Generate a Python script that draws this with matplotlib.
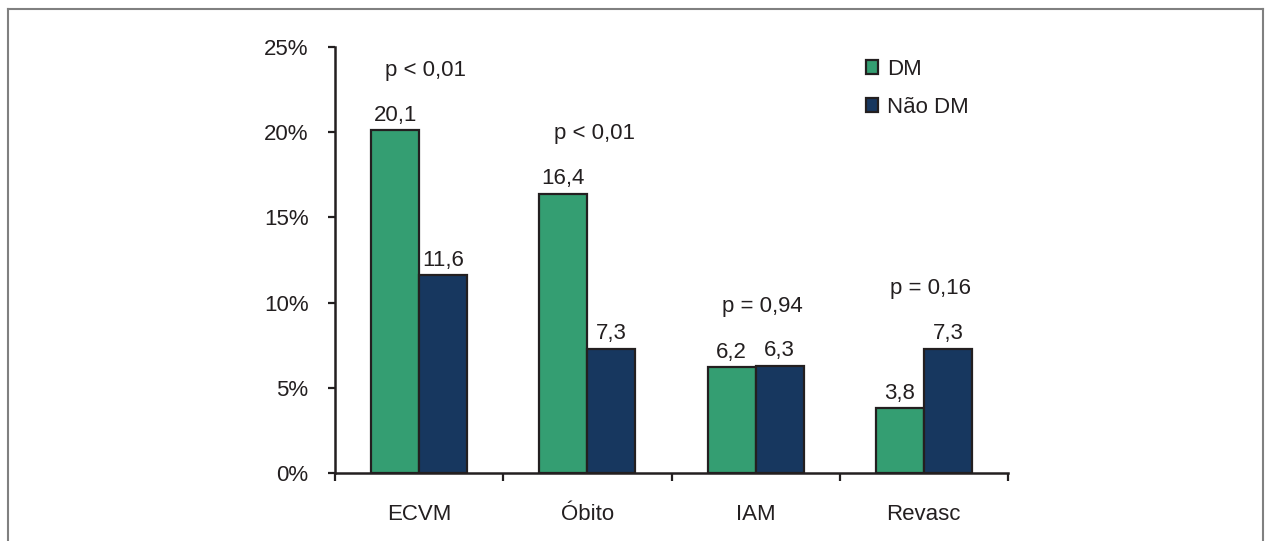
import numpy as np
import matplotlib.pyplot as plt
from matplotlib.lines import Line2D
from matplotlib.patches import Patch

plt.rcParams['font.family'] = ['Liberation Sans', 'DejaVu Sans']
fs = 16

# data
categories = ['ECVM', 'Óbito', 'IAM', 'Revasc']
dm = [20.1, 16.4, 6.2, 3.8]
nao_dm = [11.6, 7.3, 6.3, 7.3]
p_values = ['p < 0,01', 'p < 0,01', 'p = 0,94', 'p = 0,16']
series_names = ['DM', 'Não DM']

green = '#349E72'
blue = '#17375F'
ink = '#231F20'

fig = plt.figure(figsize=(12.66, 5.41), dpi=100)
ax = fig.add_axes([335 / 1266, 1 - 473 / 541, (1008 - 335) / 1266, (473 - 47) / 541])

x = np.arange(len(categories))
w = 0.285
b1 = ax.bar(x - w / 2, dm, w, color=green, edgecolor=ink, linewidth=1.6, label=series_names[0])
b2 = ax.bar(x + w / 2, nao_dm, w, color=blue, edgecolor=ink, linewidth=1.6, label=series_names[1])

# value labels on top of the bars
for bars, vals in [(b1, dm), (b2, nao_dm)]:
    for r, v in zip(bars, vals):
        ax.annotate(f'{v:.1f}'.replace('.', ','), (r.get_x() + r.get_width() / 2, v),
                    xytext=(0, 3), textcoords='offset points',
                    ha='center', va='bottom', fontsize=fs, color=ink)

# p-values above each group
for i, p in enumerate(p_values):
    top = max(dm[i], nao_dm[i])
    ax.text(x[i] + 0.04, top + 3.5, p, ha='center', va='center', fontsize=fs, color=ink)

ax.set_xlim(-0.5, len(categories) - 0.5)
ax.set_ylim(0, 25)
ax.set_yticks(range(0, 26, 5))
ax.set_yticklabels([f'{t}%' for t in range(0, 26, 5)])
ax.set_xticks(np.arange(len(categories) + 1) - 0.5)
ax.set_xticklabels([])
ax.set_xticks(x, minor=True)
ax.set_xticklabels(categories, minor=True)
ax.tick_params(axis='x', which='major', length=6, width=1.6, color=ink, direction='out')
ax.tick_params(axis='x', which='minor', length=0, pad=22, labelsize=fs, labelcolor=ink)
ax.tick_params(axis='y', length=5, width=1.6, color=ink, pad=14, labelsize=fs, labelcolor=ink)

for s in ['top', 'right']:
    ax.spines[s].set_visible(False)
for s in ['left', 'bottom']:
    ax.spines[s].set_linewidth(1.8)
    ax.spines[s].set_color(ink)

handles = [Patch(facecolor=green, edgecolor=ink, linewidth=1.6),
           Patch(facecolor=blue, edgecolor=ink, linewidth=1.6)]
fig.legend(handles, series_names, loc='upper left', bbox_to_anchor=(846 / 1266, 1 - 39 / 541),
           frameon=False, fontsize=fs, handlelength=0.55, handleheight=0.55,
           handletextpad=0.4, labelspacing=0.75, labelcolor=ink)

# outer frame (open at the bottom)
fx0, fx1, fy = 8 / 1266, 1263 / 1266, 1 - 9 / 541
for xs, ys in [([fx0, fx0], [0, fy]), ([fx0, fx1], [fy, fy]), ([fx1, fx1], [fy, 0])]:
    fig.add_artist(Line2D(xs, ys, transform=fig.transFigure, color='#808080', linewidth=1.5))

fig.savefig('out.png', dpi=100)
